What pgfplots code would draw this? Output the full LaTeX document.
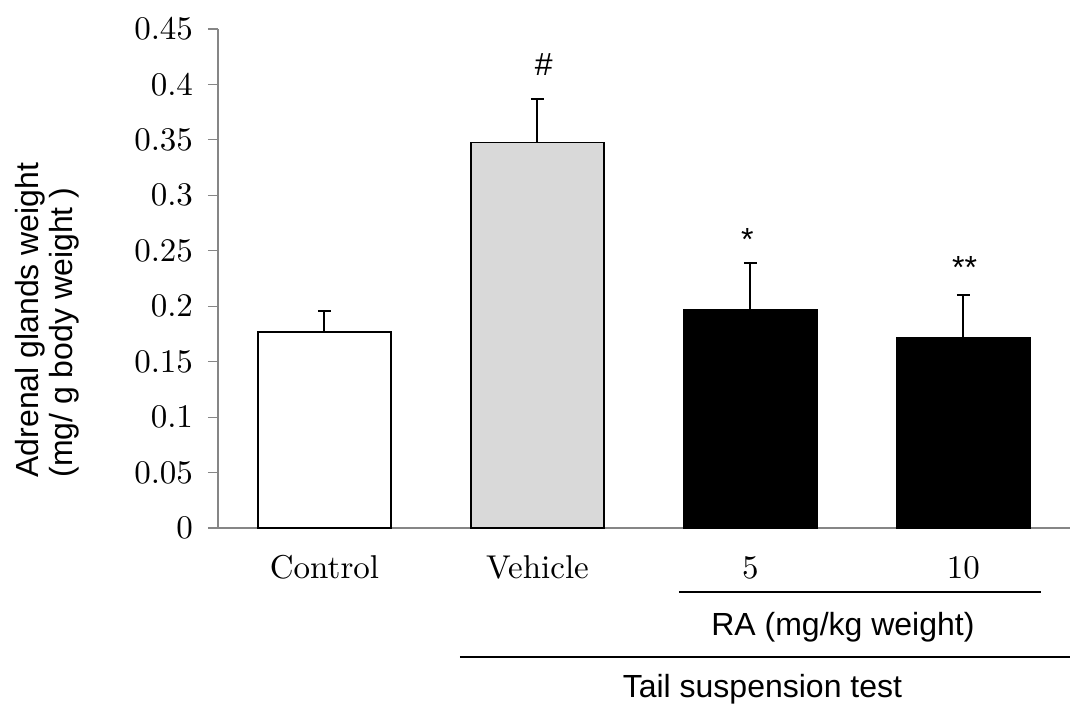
\documentclass[border=0pt]{standalone}
\usepackage{fontspec}
\setmainfont{lmroman10-regular}[Extension=.otf]
\usepackage{pgfplots}
\pgfplotsset{compat=1.18}
\newfontfamily\arial{Liberation Sans}
\definecolor{axgray}{HTML}{868686}
\definecolor{vehgray}{HTML}{D9D9D9}
\begin{document}
\begin{tikzpicture}
\begin{axis}[
  name=ax,
  at={(0,0)}, anchor=south west,
  scale only axis,
  width=426pt, height=249.5pt,
  xmin=-0.5, xmax=3.5, ymin=0, ymax=0.45,
  axis x line*=bottom, axis y line*=left,
  axis line style={draw=axgray, line width=0.6pt, -},
  clip=false,
  tick align=outside,
  major tick length=5pt,
  ytick={0,0.05,0.1,0.15,0.2,0.25,0.3,0.35,0.4,0.45},
  yticklabels={0,0.05,0.1,0.15,0.2,0.25,0.3,0.35,0.4,0.45},
  ytick style={draw=axgray, line width=0.6pt},
  yticklabel style={font=\fontsize{16.5}{19}\selectfont, xshift=-4pt},
  xtick={0,1,2,3},
  xticklabels={Control,Vehicle,5,10},
  xtick style={draw=none},
  xticklabel style={font=\fontsize{16.5}{19}\selectfont, anchor=base, yshift=-20.5pt},
  extra x ticks={-0.5,0.5,1.5,2.5,3.5},
  extra x tick labels={},
  extra x tick style={tick style={draw=axgray, line width=0.6pt}},
  ybar, bar width=0.625, bar shift=0pt,
]
\addplot[fill=white, draw=black, line width=0.65pt,
  error bars/.cd, y dir=plus, y explicit,
  error bar style={line width=1pt, black},
  error mark options={rotate=90, mark size=3.3pt, line width=1pt, black}]
  coordinates {(0,0.1767) +- (0,0.019)};
\addplot[fill=vehgray, draw=black, line width=0.65pt,
  error bars/.cd, y dir=plus, y explicit,
  error bar style={line width=1pt, black},
  error mark options={rotate=90, mark size=3.3pt, line width=1pt, black}]
  coordinates {(1,0.3475) +- (0,0.0395)};
\addplot[fill=black, draw=black, line width=0.65pt,
  error bars/.cd, y dir=plus, y explicit,
  error bar style={line width=1pt, black},
  error mark options={rotate=90, mark size=3.3pt, line width=1pt, black}]
  coordinates {(2,0.1966) +- (0,0.0424) (3,0.1713) +- (0,0.0385)};
% significance marks
\node[font=\arial\fontsize{16}{18}\selectfont, anchor=base, inner sep=0pt] at (axis cs:1.03,0.4085) {\#};
\node[font=\arial\fontsize{16}{18}\selectfont, anchor=base, inner sep=0pt] at (axis cs:1.985,0.25) {*};
\node[font=\arial\fontsize{16}{18}\selectfont, anchor=base, inner sep=0pt] at (axis cs:3.005,0.2254) {**};
% group lines and labels
\draw[black, line width=0.65pt] (axis cs:1.664,-0.0577) -- (axis cs:3.364,-0.0577);
\node[font=\arial\fontsize{16}{18}\selectfont, anchor=base, inner sep=0pt] at (axis cs:2.434,-0.0965) {RA (mg/kg weight)};
\draw[black, line width=0.65pt] (axis cs:0.636,-0.1163) -- (axis cs:3.5,-0.1163);
\node[font=\arial\fontsize{16}{18}\selectfont, anchor=base, inner sep=0pt] at (axis cs:2.056,-0.1533) {Tail suspension test};
% y label
\node[font=\arial\fontsize{16}{17}\selectfont, rotate=90, anchor=west, align=left, inner sep=0pt] at (axis cs:-1.303,0.0451) {Adrenal glands weight\\(mg/ g body weight )};
\end{axis}
\pgfresetboundingbox
\path ([shift={(-109pt,-88pt)}]ax.south west) rectangle ([shift={(0pt,14.5pt)}]ax.north east);
\end{tikzpicture}
\end{document}
